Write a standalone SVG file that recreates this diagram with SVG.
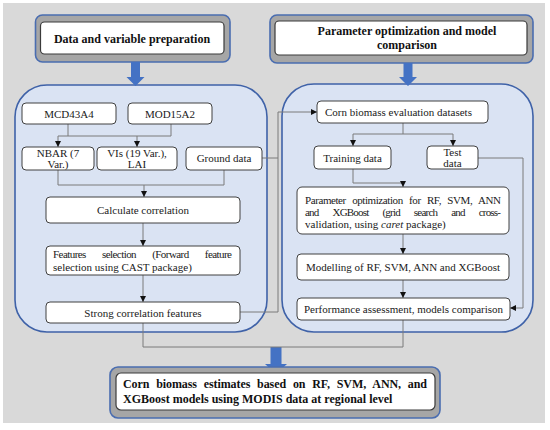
<svg xmlns="http://www.w3.org/2000/svg" width="550" height="430" viewBox="0 0 550 430" font-family="'Liberation Serif', 'DejaVu Serif', serif">
<defs>
<style>
.bg{fill:#d9d9d9}
.panel{fill:#dae3f3;stroke:#3f62a8;stroke-width:1.6}
.frame{fill:#a6a6a6;stroke:#4a6db0;stroke-width:1.6}
.tbox{fill:#ffffff;stroke:#3a3a3a;stroke-width:1.2}
.node{fill:#ffffff;stroke:#404040;stroke-width:1}
text{font-family:'Liberation Serif','DejaVu Serif',serif}
.t{font-size:11px;fill:#1a1a1a}
.tb{font-size:12px;font-weight:bold;fill:#111}
.c{fill:none;stroke:#7a7a7a;stroke-width:1}
.big{fill:#4472c4}
</style>
<marker id="ah" viewBox="0 0 8 8" refX="8" refY="4" markerWidth="6" markerHeight="6" orient="auto" markerUnits="userSpaceOnUse">
<path d="M0,0 L8,4 L0,8 z" fill="#111"/>
</marker>
</defs>
<rect class="bg" x="3" y="3" width="542" height="420"/>

<g id="panels">
<rect class="panel" x="15" y="85" width="252" height="247" rx="32"/>
<rect class="panel" x="282" y="84" width="251" height="248" rx="32"/>
</g>

<g id="title-left">
<rect class="frame" x="35.5" y="15" width="194.5" height="47" rx="7"/>
<rect class="tbox" x="40.5" y="22" width="183.5" height="32" rx="4"/>
<text class="tb" x="132" y="42.5" text-anchor="middle">Data and variable preparation</text>
</g>
<g id="title-right">
<rect class="frame" x="270" y="15" width="263" height="48" rx="7"/>
<rect class="tbox" x="275" y="21" width="252" height="34" rx="4"/>
<text class="tb" x="407" y="35" text-anchor="middle">Parameter optimization and model</text>
<text class="tb" x="407" y="49" text-anchor="middle">comparison</text>
</g>

<g id="big-arrows">
<path class="big" d="M131,62 H140 V77 H144.5 L135.5,86 L126.5,77 H131 Z"/>
<path class="big" d="M403.5,63 H412.5 V77 H417 L408,86 L399,77 H403.5 Z"/>
<path class="big" d="M270.5,347 H281.5 V364 H287 L276,374 L265,364 H270.5 Z"/>
</g>

<g id="connectors">
<path class="c" d="M68,124 V136"/>
<path class="c" d="M171,124 V136"/>
<path class="c" d="M58,136 H171"/>
<path class="c" d="M58,136 V147" marker-end="url(#ah)"/>
<path class="c" d="M137,136 V147" marker-end="url(#ah)"/>
<path class="c" d="M58,170 V185 H224 V170"/>
<path class="c" d="M144,185 V197" marker-end="url(#ah)"/>
<path class="c" d="M143,223 V246" marker-end="url(#ah)"/>
<path class="c" d="M143,275 V302" marker-end="url(#ah)"/>
<path class="c" d="M262,158 H278"/>
<path class="c" d="M240,312 H278 V112 H317" marker-end="url(#ah)"/>
<path class="c" d="M143,323 V347 H403 V320"/>
<path class="c" d="M403,123 V134"/>
<path class="c" d="M353,134 H453"/>
<path class="c" d="M353,134 V146" marker-end="url(#ah)"/>
<path class="c" d="M453,134 V146" marker-end="url(#ah)"/>
<path class="c" d="M353,169 V183 H403 V187" marker-end="url(#ah)"/>
<path class="c" d="M478,158 H523 V308 H510" marker-end="url(#ah)"/>
<path class="c" d="M403,234 V254" marker-end="url(#ah)"/>
<path class="c" d="M403,280 V298" marker-end="url(#ah)"/>
</g>

<g id="n-mcd43a4">
<rect class="node" x="22" y="103" width="94" height="21" rx="4"/>
<text class="t" x="69" y="117.5" text-anchor="middle">MCD43A4</text>
</g>
<g id="n-mod15a2">
<rect class="node" x="128" y="103" width="84" height="21" rx="4"/>
<text class="t" x="170" y="117.5" text-anchor="middle">MOD15A2</text>
</g>
<g id="n-nbar">
<rect class="node" x="22" y="147" width="72" height="23" rx="4"/>
<text class="t" x="58" y="156.5" text-anchor="middle">NBAR (7</text>
<text class="t" x="58" y="167.5" text-anchor="middle">Var.)</text>
</g>
<g id="n-vis">
<rect class="node" x="97" y="147" width="80" height="23" rx="4"/>
<text class="t" x="137" y="156.5" text-anchor="middle">VIs (19 Var.),</text>
<text class="t" x="137" y="167.5" text-anchor="middle">LAI</text>
</g>
<g id="n-ground">
<rect class="node" x="186" y="147" width="76" height="23" rx="4"/>
<text class="t" x="224" y="162" text-anchor="middle">Ground data</text>
</g>
<g id="n-calc">
<rect class="node" x="46" y="197" width="194" height="26" rx="4"/>
<text class="t" x="143" y="214" text-anchor="middle">Calculate correlation</text>
</g>
<g id="n-features">
<rect class="node" x="46" y="246" width="194" height="29" rx="4"/>
<text class="t" x="53" y="258" textLength="179" lengthAdjust="spacing" style="word-spacing:14px">Features selection (Forward feature</text>
<text class="t" x="53" y="270.5">selection using CAST package)</text>
</g>
<g id="n-strong">
<rect class="node" x="46" y="302" width="194" height="21" rx="4"/>
<text class="t" x="143" y="316.5" text-anchor="middle">Strong correlation features</text>
</g>

<g id="n-corn">
<rect class="node" x="317" y="101" width="171" height="22" rx="4"/>
<text class="t" x="325" y="115.5">Corn biomass evaluation datasets</text>
</g>
<g id="n-training">
<rect class="node" x="314" y="146" width="77" height="23" rx="4"/>
<text class="t" x="352.5" y="161.5" text-anchor="middle">Training data</text>
</g>
<g id="n-test">
<rect class="node" x="427" y="146" width="51" height="23" rx="4"/>
<text class="t" x="452.5" y="155.5" text-anchor="middle">Test</text>
<text class="t" x="452.5" y="166.5" text-anchor="middle">data</text>
</g>
<g id="n-param">
<rect class="node" x="297" y="187" width="212" height="47" rx="5"/>
<text class="t" x="305" y="204" textLength="196" lengthAdjust="spacing" style="word-spacing:4px">Parameter optimization for RF, SVM, ANN</text>
<text class="t" x="305" y="216" textLength="196" lengthAdjust="spacing" style="word-spacing:12px">and XGBoost (grid search and cross-</text>
<text class="t" x="305" y="228">validation, using <tspan font-style="italic">caret</tspan> package)</text>
</g>
<g id="n-modelling">
<rect class="node" x="297" y="254" width="212" height="26" rx="4"/>
<text class="t" x="403" y="271" text-anchor="middle">Modelling of RF, SVM, ANN and XGBoost</text>
</g>
<g id="n-performance">
<rect class="node" x="297" y="298" width="213" height="22" rx="4"/>
<text class="t" x="403.5" y="313" text-anchor="middle">Performance assessment, models comparison</text>
</g>

<g id="n-final">
<rect class="frame" x="110" y="367" width="330" height="51" rx="8"/>
<rect class="tbox" x="116" y="373" width="319" height="37" rx="5"/>
<text class="tb" x="123" y="388" textLength="304" lengthAdjust="spacing" style="word-spacing:4px">Corn biomass estimates based on RF, SVM, ANN, and</text>
<text class="tb" x="123" y="403">XGBoost models using MODIS data at regional level</text>
</g>
</svg>
